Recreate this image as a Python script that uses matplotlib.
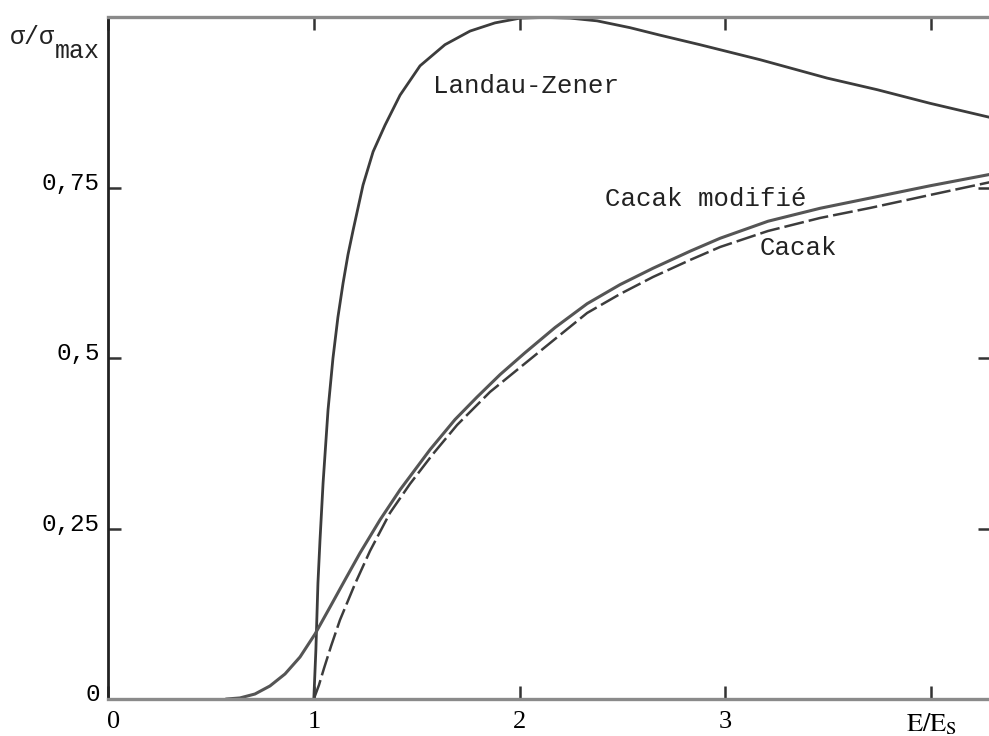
import numpy as np
import matplotlib.pyplot as plt
import matplotlib.transforms as transforms

# valeurs (E/Es, sigma/sigma_max)
lz_x = [1.0, 1.01, 1.02, 1.03, 1.045, 1.069, 1.093, 1.117, 1.142, 1.166,
        1.191, 1.239, 1.288, 1.346, 1.419, 1.516, 1.637, 1.759, 1.880, 2.002,
        2.123, 2.245, 2.376, 2.536, 2.682, 2.876, 3.168, 3.494, 3.737, 3.994,
        4.29]
lz_y = [0.0, 0.072, 0.170, 0.233, 0.317, 0.424, 0.500, 0.560, 0.610, 0.652,
        0.688, 0.754, 0.803, 0.842, 0.886, 0.929, 0.960, 0.980, 0.992, 0.999,
        1.0, 0.999, 0.995, 0.985, 0.974, 0.960, 0.938, 0.911, 0.894, 0.874,
        0.853]

cm_x = [0.578, 0.641, 0.714, 0.787, 0.860, 0.933, 1.006, 1.079, 1.152, 1.224,
        1.322, 1.419, 1.565, 1.686, 1.793, 1.905, 2.026, 2.172, 2.328, 2.488,
        2.648, 2.828, 2.974, 3.207, 3.460, 3.703, 3.994, 4.29]
cm_y = [0.0, 0.0015, 0.0073, 0.0191, 0.0367, 0.0616, 0.0954, 0.135, 0.175,
        0.214, 0.263, 0.307, 0.366, 0.410, 0.443, 0.476, 0.508, 0.545, 0.580,
        0.608, 0.632, 0.657, 0.676, 0.701, 0.720, 0.735, 0.753, 0.770]

c_x = [1.0, 1.025, 1.050, 1.084, 1.127, 1.200, 1.273, 1.370, 1.467, 1.579,
       1.696, 1.856, 2.017, 2.172, 2.328, 2.488, 2.648, 2.828, 2.974, 3.207,
       3.460, 3.703, 3.994, 4.29]
c_y = [0.0, 0.0205, 0.0455, 0.0778, 0.1159, 0.1688, 0.2172, 0.2730, 0.3155,
       0.3595, 0.4020, 0.4505, 0.4901, 0.5282, 0.5664, 0.5942, 0.6192, 0.6441,
       0.6632, 0.6867, 0.7058, 0.7205, 0.7395, 0.7586]

xticks = [0, 1, 2, 3, 4]
xlabels = ['0', '1', '2', '3', r'$\mathrm{E/E_S}$']
yticks = [0, 0.25, 0.5, 0.75]
ylabels = ['0', '0,25', '0,5', '0,75']

plt.rcParams['mathtext.fontset'] = 'stix'
mono = 'Liberation Mono'
serif = 'Liberation Serif'
ink = '#3c3c3c'

fig = plt.figure(figsize=(9.89, 7.36), dpi=100)
ax = fig.add_axes([0.1092, 0.0503, 0.8928, 0.926])

ax.plot(lz_x, lz_y, color=ink, lw=2.0)
ax.plot(cm_x, cm_y, color='#555555', lw=2.2)
ax.plot(c_x, c_y, color=ink, lw=1.8, dashes=(8, 2))

ax.set_xlim(0, 4.29)
ax.set_ylim(0, 1)

ax.set_xticks(xticks)
ax.set_xticklabels(xlabels, fontfamily=serif, fontsize=19)
ax.set_yticks(yticks)
ax.set_yticklabels(ylabels, fontfamily=mono, fontsize=17.5)
ax.tick_params(direction='in', length=9.5, width=1.8, color='#333333',
               top=True, right=True, pad=6)
ax.tick_params(axis='x', pad=9)

# labels y un peu au-dessus des graduations
off = transforms.ScaledTranslation(0, 5 / 72, fig.dpi_scale_trans)
for lab in ax.get_yticklabels():
    lab.set_transform(lab.get_transform() + off)
# le 0 de l'axe x est un peu decale a droite
offx = transforms.ScaledTranslation(4 / 72, 0, fig.dpi_scale_trans)
lab0 = ax.get_xticklabels()[0]
lab0.set_transform(lab0.get_transform() + offx)

for s in ['top', 'bottom', 'right']:
    ax.spines[s].set_color('#8a8a8a')
    ax.spines[s].set_linewidth(2.4)
ax.spines['left'].set_color('#222222')
ax.spines['left'].set_linewidth(2.0)

ax.text(1.579, 0.899, 'Landau-Zener', fontfamily=mono, fontsize=18.5,
        va='center', color='#222222')
ax.text(2.415, 0.733, 'Cacak modifié', fontfamily=mono, fontsize=18.5,
        va='center', color='#222222')
ax.text(3.168, 0.661, 'Cacak', fontfamily=mono, fontsize=18.5,
        va='center', color='#222222')

fig.text(55 / 989, 1 - 37 / 736, 'σ/σ', fontfamily=mono, fontsize=18,
         ha='right', va='center', color='#222222')
fig.text(55 / 989, 1 - 51 / 736, 'max', fontfamily=mono, fontsize=18,
         ha='left', va='center', color='#222222')

fig.savefig('out.png', dpi=100)
